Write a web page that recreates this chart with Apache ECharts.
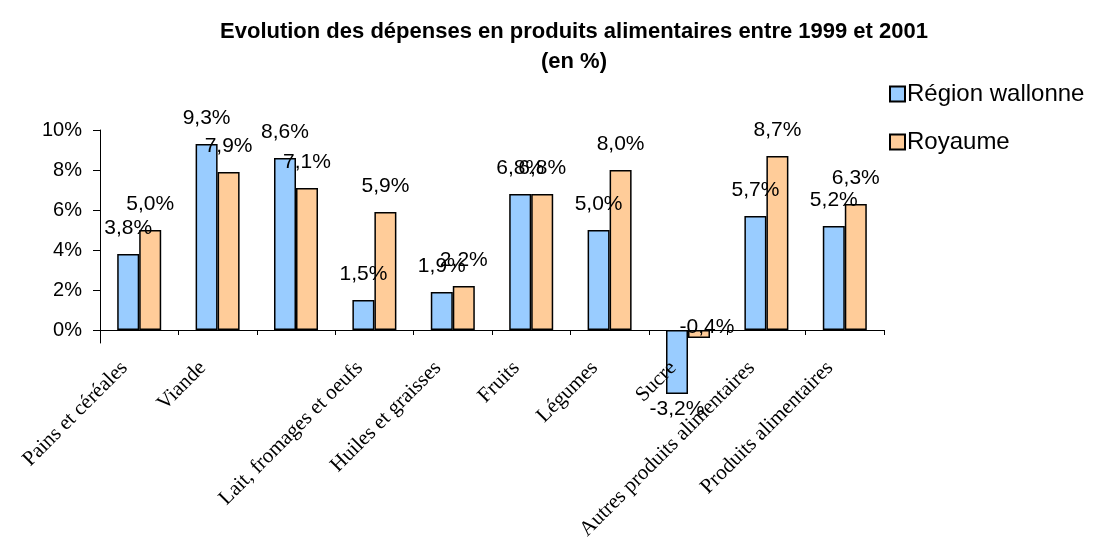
<!DOCTYPE html>
<html>
<head>
<meta charset="utf-8">
<script src="https://cdn.jsdelivr.net/npm/echarts@6/dist/echarts.min.js"></script>
<style>
  html, body { margin: 0; padding: 0; background: #fff; }
  #chart { width: 1094px; height: 545px; }
</style>
</head>
<body>
<div id="chart"></div>
<script>
// catégories (le 3e groupe n'a pas d'étiquette visible)
const categories = ['Pains et céréales', 'Viande', '', 'Lait, fromages et oeufs', 'Huiles et graisses',
  'Fruits', 'Légumes', 'Sucre', 'Autres produits alimentaires', 'Produits alimentaires']
const wallonie = [3.8, 9.3, 8.6, 1.5, 1.9, 6.8, 5.0, -3.2, 5.7, 5.2]
const royaume = [5.0, 7.9, 7.1, 5.9, 2.2, 6.8, 8.0, -0.4, 8.7, 6.3]
const yTicks = [0, 2, 4, 6, 8, 10]

const fmt = v => String(v.toFixed(1)).replace('.', ',') + '%'

// étiquettes : en dessous pour les valeurs fortement négatives
function toData (arr) {
  return arr.map(v => {
    let item = { value: v }
    if (v < -1) {
      item.label = { position: 'bottom', distance: 5 }
    } else if (v < 0) {
      item.label = { position: 'top', distance: -8, offset: [8, 0] }
    }
    return item
  })
}

const chart = echarts.init(document.getElementById('chart'))
const labelStyle = {
  show: true,
  position: 'top',
  distance: 15,
  fontFamily: 'Liberation Sans',
  fontSize: 21,
  color: '#000',
  formatter: p => fmt(p.value)
}
const titleStyle = { fontFamily: 'Liberation Sans', fontWeight: 'bold', fontSize: 22, color: '#000' }
const option = {
  animation: false,
  title: [{
    text: 'Evolution des dépenses en produits alimentaires entre 1999 et 2001',
    left: 569,
    top: 16,
    textAlign: 'center',
    textStyle: titleStyle
  }, {
    text: '(en %)',
    left: 569,
    top: 46,
    textAlign: 'center',
    textStyle: titleStyle
  }],
  legend: {
    orient: 'vertical',
    left: 884,
    top: 77,
    itemWidth: 15,
    itemHeight: 15,
    itemGap: 24,
    icon: 'rect',
    textStyle: { fontFamily: 'Liberation Sans', fontSize: 24, color: '#000', padding: [0, 0, 0, -3] }
  },
  grid: [
    { left: 100, right: 210, top: 130, bottom: 135, outerBoundsMode: 'none', containLabel: false },
    { left: 100, top: 130, width: 10, height: 213, outerBoundsMode: 'none', containLabel: false }
  ],
  xAxis: [{
    type: 'category',
    data: categories,
    gridIndex: 0,
    z: 5,
    axisLine: { lineStyle: { color: '#000', width: 1 } },
    axisTick: { show: true, length: 5, lineStyle: { color: '#000' } },
    axisLabel: {
      rotate: 45,
      interval: 0,
      margin: -60,
      padding: [0, 21, 0, 0],
      fontFamily: 'Liberation Serif',
      fontSize: 21,
      color: '#000'
    }
  }, {
    type: 'category',
    gridIndex: 1,
    show: false,
    data: ['']
  }],
  yAxis: [{
    type: 'value',
    gridIndex: 0,
    min: -4,
    max: 10,
    interval: 2,
    axisLine: { show: false },
    splitLine: { show: false },
    axisTick: { show: true, length: 7, customValues: yTicks, lineStyle: { color: '#000' } },
    axisLabel: {
      customValues: yTicks,
      margin: 18,
      fontFamily: 'Liberation Sans',
      fontSize: 20,
      color: '#000',
      formatter: v => v + '%'
    }
  }, {
    type: 'value',
    gridIndex: 1,
    min: 0,
    max: 1,
    axisLine: { show: true, lineStyle: { color: '#000', width: 1 } },
    axisTick: { show: false },
    axisLabel: { show: false },
    splitLine: { show: false }
  }],
  series: [{
    name: 'Région wallonne',
    type: 'bar',
    data: toData(wallonie),
    barWidth: 22,
    barGap: '0%',
    itemStyle: { color: '#99CCFF', borderColor: '#000', borderWidth: 1.5 },
    label: labelStyle
  }, {
    name: 'Royaume',
    type: 'bar',
    data: toData(royaume),
    barWidth: 22,
    barGap: '0%',
    itemStyle: { color: '#FFCC99', borderColor: '#000', borderWidth: 1.5 },
    label: labelStyle
  }]
}
chart.setOption(option)
</script>
</body>
</html>
